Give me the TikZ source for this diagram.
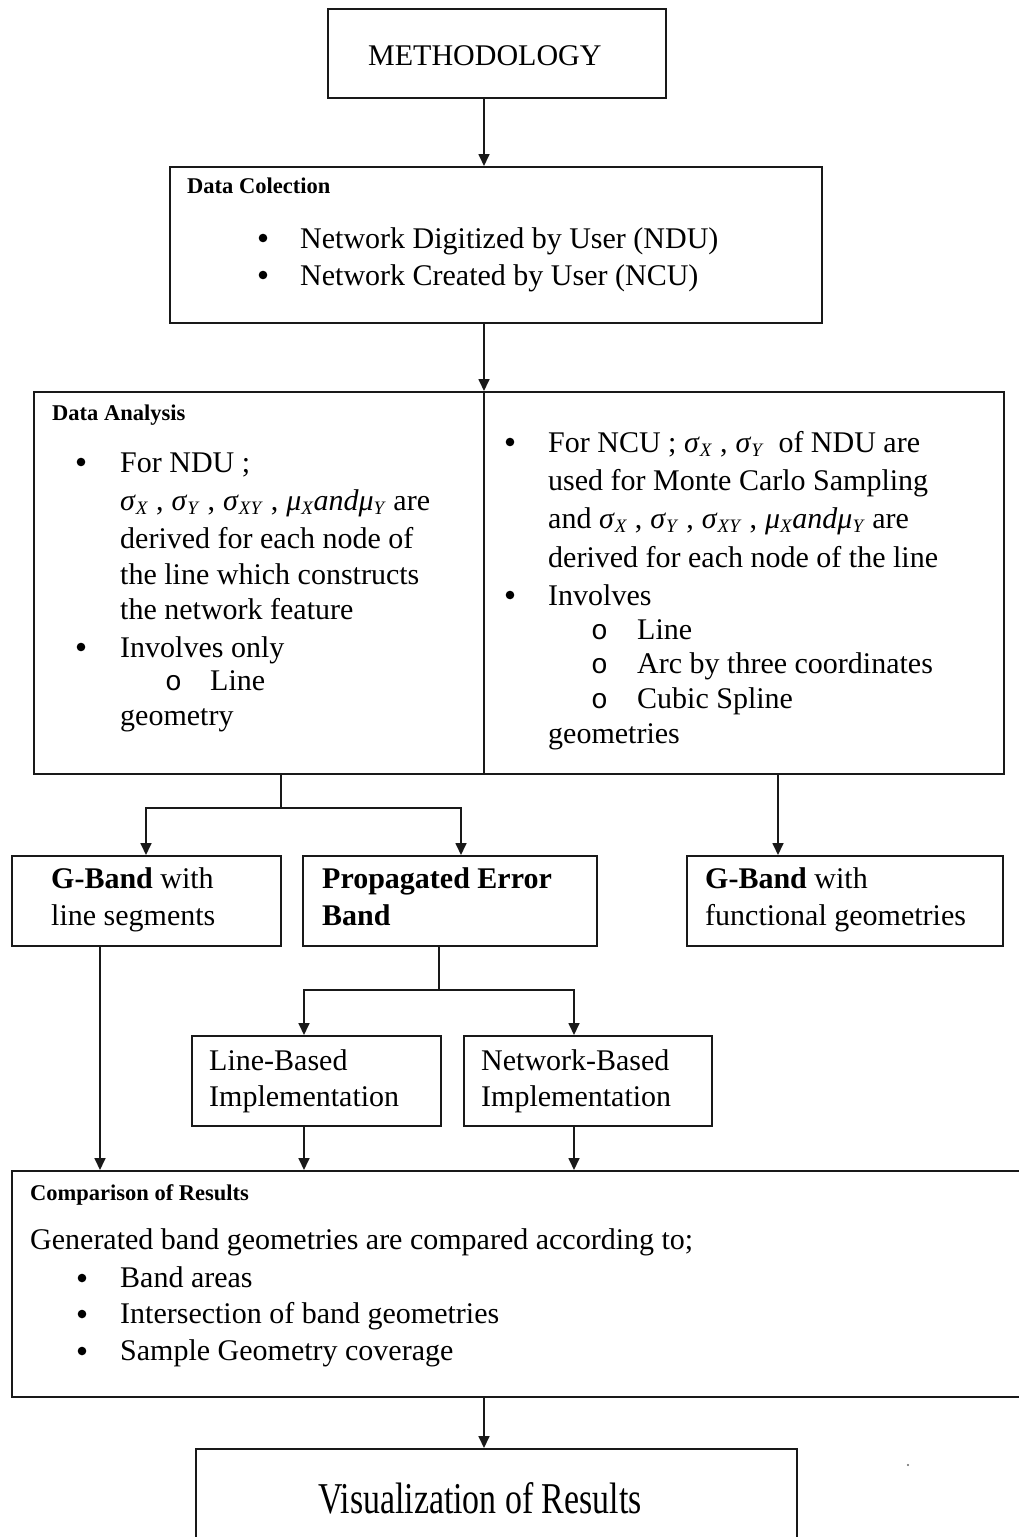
\documentclass[tikz,border=0pt]{standalone}
\usepackage{fontspec}
\setmainfont{Liberation Serif}
\newfontfamily\visfont{Liberation Serif}[FakeStretch=0.77]
\newfontfamily\circfont{Liberation Mono}
\usetikzlibrary{arrows.meta}
\newcommand{\bodyf}{\fontsize{30}{36}\selectfont}
\newcommand{\headf}{\fontsize{22.5}{27}\selectfont\bfseries}
\newcommand{\sbx}[1]{\raisebox{-0.3ex}{\fontsize{19}{19}\selectfont\textit{#1}}}
\newcommand{\sg}{\textit{σ}}
\newcommand{\mue}{\textit{μ}}
\newcommand{\cm}{\hspace{8pt},\hspace{8pt}}
\newcommand{\circb}{{\circfont\fontsize{28}{30}\selectfont o}}
\tikzset{
  box/.style={draw=black!90, line width=1.7pt, rectangle, inner sep=0pt, anchor=north west},
  txt/.style={anchor=base west, inner sep=0pt, font=\bodyf},
  hd/.style={anchor=base west, inner sep=0pt, font=\headf},
  dot/.style={circle, fill=black, inner sep=0pt, minimum size=8.6pt},
  arr/.style={draw=black!90, line width=1.7pt, -{Triangle[length=12pt,width=11pt]}},
  ln/.style={draw=black!90, line width=1.7pt},
}
\begin{document}
\begin{tikzpicture}[x=1pt,y=-1pt]
\useasboundingbox (0,0) rectangle (1019,1537);
\clip (0,0) rectangle (1019,1537);
\fill[white] (0,0) rectangle (1019,1537);

% boxes
\node[box, minimum width=338pt, minimum height=89pt] (meth) at (327,8) {};
\node[box, minimum width=652pt, minimum height=156pt] (dc) at (169,166) {};
\node[box, minimum width=970pt, minimum height=382pt] (ana) at (33,391) {};
\node[box, minimum width=269pt, minimum height=90pt] (gbl) at (11,855) {};
\node[box, minimum width=294pt, minimum height=90pt] (peb) at (302,855) {};
\node[box, minimum width=316pt, minimum height=90pt] (gbf) at (686,855) {};
\node[box, minimum width=249pt, minimum height=90pt] (lb) at (191,1035) {};
\node[box, minimum width=248pt, minimum height=90pt] (nb) at (463,1035) {};
\node[box, minimum width=1030pt, minimum height=226pt] (comp) at (11,1170) {};
\node[box, minimum width=601pt, minimum height=120pt] (vis) at (195,1448) {};
\draw[ln] (484,391) -- (484,773);

% connectors
\coordinate (sp) at (484,0);
\draw[arr] (meth.south -| sp) -- (dc.north -| sp);
\draw[arr] (dc.south -| sp) -- (ana.north -| sp);
\coordinate (j1) at (281,808);
\coordinate (j1l) at (146,808);
\coordinate (j1r) at (461,808);
\draw[ln] (ana.south -| j1) -- (j1);
\draw[arr] (j1) -- (j1l) -- (gbl.north -| j1l);
\draw[arr] (j1) -- (j1r) -- (peb.north -| j1r);
\coordinate (c3) at (778,0);
\draw[arr] (ana.south -| c3) -- (gbf.north -| c3);
\coordinate (j2) at (439,990);
\coordinate (j2l) at (304,990);
\coordinate (j2r) at (574,990);
\draw[ln] (peb.south -| j2) -- (j2);
\draw[arr] (j2) -- (j2l) -- (lb.north -| j2l);
\draw[arr] (j2) -- (j2r) -- (nb.north -| j2r);
\coordinate (c1) at (100,0);
\draw[arr] (gbl.south -| c1) -- (comp.north -| c1);
\draw[arr] (lb.south -| j2l) -- (comp.north -| j2l);
\draw[arr] (nb.south -| j2r) -- (comp.north -| j2r);
\draw[arr] (comp.south -| sp) -- (vis.north -| sp);

% texts
\node[txt] (tmeth) at (368,65) {METHODOLOGY};

\node[hd] (hdc) at (187,193) {Data Colection};
\node[dot] (b1) at (263,238) {};
\node[txt] (t1) at (300,248) {Network Digitized by User (NDU)};
\node[dot] (b2) at (263,275) {};
\node[txt] (t2) at (300,285) {Network Created by User (NCU)};

\node[hd] (hda) at (52,420) {Data Analysis};
\node[dot] (lb1) at (81,462) {};
\node[txt] (l1) at (120,472) {For NDU ;};
\node[txt] (l2) at (120,510) {\sg\sbx{X}\cm\sg\sbx{Y}\cm\sg\sbx{XY}\cm\mue\sbx{X}\textit{and}\mue\sbx{Y} are};
\node[txt] (l3) at (120,548) {derived for each node of};
\node[txt] (l4) at (120,584) {the line which constructs};
\node[txt] (l5) at (120,619) {the network feature};
\node[dot] (lb2) at (81,647) {};
\node[txt] (l6) at (120,657) {Involves only};
\node[txt] (lc1) at (165,690) {\circb};
\node[txt] (l7) at (210,690) {Line};
\node[txt] (l8) at (120,725) {geometry};

\node[dot] (rb1) at (510,442) {};
\node[txt] (r1) at (548,452) {For NCU ; \sg\sbx{X}\cm\sg\sbx{Y}\ \ of NDU are};
\node[txt] (r2) at (548,490) {used for Monte Carlo Sampling};
\node[txt] (r3) at (548,528) {and \sg\sbx{X}\cm\sg\sbx{Y}\cm\sg\sbx{XY}\cm\mue\sbx{X}\textit{and}\mue\sbx{Y} are};
\node[txt] (r4) at (548,567) {derived for each node of the line};
\node[dot] (rb2) at (510,595) {};
\node[txt] (r5) at (548,605) {Involves};
\node[txt] (rc1) at (591,639) {\circb};
\node[txt] (r6) at (637,639) {Line};
\node[txt] (rc2) at (591,673) {\circb};
\node[txt] (r7) at (637,673) {Arc by three coordinates};
\node[txt] (rc3) at (591,708) {\circb};
\node[txt] (r8) at (637,708) {Cubic Spline};
\node[txt] (r9) at (548,743) {geometries};

\node[txt] (g1) at (51,888) {\textbf{G-Band} with};
\node[txt] (g2) at (51,925) {line segments};
\node[txt] (p1) at (322,888) {\textbf{Propagated Error}};
\node[txt] (p2) at (322,925) {\textbf{Band}};
\node[txt] (f1) at (705,888) {\textbf{G-Band} with};
\node[txt] (f2) at (705,925) {functional geometries};
\node[txt] (lb1t) at (209,1070) {Line-Based};
\node[txt] (lb2t) at (209,1106) {Implementation};
\node[txt] (nb1t) at (481,1070) {Network-Based};
\node[txt] (nb2t) at (481,1106) {Implementation};

\node[hd] (hcr) at (30,1200) {Comparison of Results};
\node[txt] (c0) at (30,1249) {Generated band geometries are compared according to;};
\node[dot] (cb1) at (82,1278) {};
\node[txt] (ct1) at (120,1287) {Band areas};
\node[dot] (cb2) at (82,1314) {};
\node[txt] (ct2) at (120,1323) {Intersection of band geometries};
\node[dot] (cb3) at (82,1351) {};
\node[txt] (ct3) at (120,1360) {Sample Geometry coverage};

\node[anchor=base west, inner sep=0pt, font=\visfont\fontsize{44}{50}\selectfont] (tvis) at (318,1513) {Visualization of Results};
\fill[black!60] (908,1465) circle (1.2);
\end{tikzpicture}
\end{document}
